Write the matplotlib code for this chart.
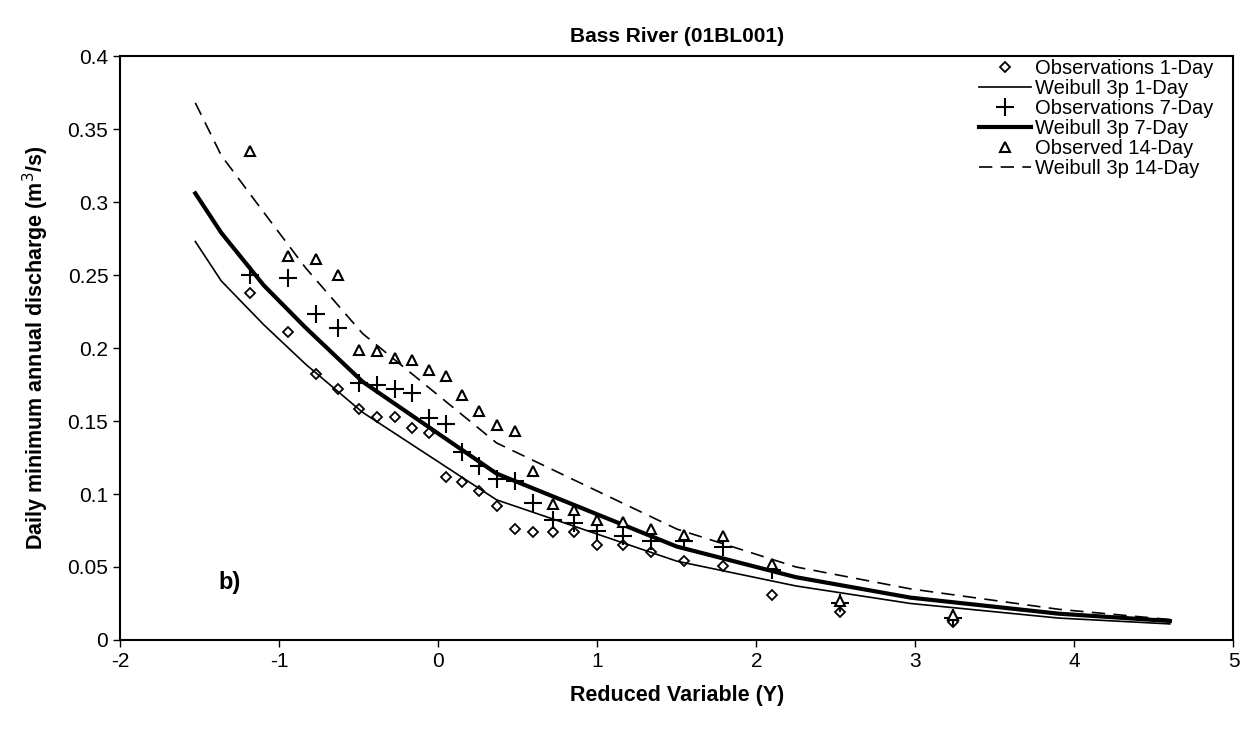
import matplotlib.pyplot as plt
from matplotlib.ticker import FuncFormatter

plt.rcParams['font.family'] = ['Liberation Sans', 'DejaVu Sans']
plt.rcParams['axes.unicode_minus'] = False

# reduced variate of the observations (plotting positions)
obs_y = [-1.181, -0.942, -0.770, -0.627, -0.500, -0.383, -0.272, -0.164, -0.059,
         0.046, 0.151, 0.257, 0.367, 0.480, 0.598, 0.723, 0.856, 1.000, 1.159,
         1.338, 1.544, 1.789, 2.099, 2.526, 3.239]

obs_1day = [0.238, 0.211, 0.182, 0.172, 0.158, 0.153, 0.153, 0.145, 0.142,
            0.112, 0.108, 0.102, 0.092, 0.076, 0.074, 0.074, 0.074, 0.065, 0.065,
            0.060, 0.054, 0.051, 0.031, 0.019, 0.012]
obs_7day = [0.250, 0.248, 0.223, 0.214, 0.176, 0.175, 0.172, 0.169, 0.152,
            0.148, 0.129, 0.119, 0.110, 0.109, 0.094, 0.082, 0.080, 0.075, 0.071,
            0.068, 0.068, 0.064, 0.048, 0.025, 0.015]
obs_14day = [0.335, 0.263, 0.261, 0.250, 0.199, 0.198, 0.193, 0.192, 0.185,
             0.181, 0.168, 0.157, 0.147, 0.143, 0.116, 0.093, 0.089, 0.082, 0.081,
             0.076, 0.072, 0.071, 0.052, 0.027, 0.017]

# fitted Weibull 3p curves
fit_y = [-1.527, -1.364, -1.097, -0.834, -0.476, 0.367, 1.500, 2.250, 2.970, 3.902, 4.600]
fit_1day = [0.273, 0.246, 0.216, 0.189, 0.156, 0.096, 0.054, 0.037, 0.025, 0.015, 0.011]
fit_7day = [0.306, 0.279, 0.243, 0.214, 0.177, 0.114, 0.064, 0.043, 0.029, 0.018, 0.013]
fit_14day = [0.368, 0.332, 0.293, 0.255, 0.210, 0.135, 0.076, 0.050, 0.035, 0.021, 0.014]

fig = plt.figure(figsize=(12.51, 7.39), dpi=100)
ax = fig.add_axes([0.096, 0.134, 0.890, 0.790])

ax.plot(obs_y, obs_1day, linestyle='none', marker='D', markersize=5.5,
        markerfacecolor='white', markeredgecolor='black', markeredgewidth=1.3,
        label='Observations 1-Day')
ax.plot(fit_y, fit_1day, color='black', linewidth=1.2, label='Weibull 3p 1-Day')
ax.plot(obs_y, obs_7day, linestyle='none', marker='+', markersize=13,
        markeredgecolor='black', markeredgewidth=1.5, label='Observations 7-Day')
ax.plot(fit_y, fit_7day, color='black', linewidth=3, label='Weibull 3p 7-Day')
ax.plot(obs_y, obs_14day, linestyle='none', marker='^', markersize=7.5,
        markerfacecolor='white', markeredgecolor='black', markeredgewidth=1.5,
        label='Observed 14-Day')
ax.plot(fit_y, fit_14day, color='black', linewidth=1.2, dashes=(8, 5),
        label='Weibull 3p 14-Day')

ax.set_xlim(-2, 5)
ax.set_ylim(0, 0.4)
ax.set_xticks(range(-2, 6))
ax.set_yticks([0, 0.05, 0.1, 0.15, 0.2, 0.25, 0.3, 0.35, 0.4])
ax.yaxis.set_major_formatter(FuncFormatter(lambda v, p: '%g' % v))
ax.tick_params(direction='out', labelsize=15, length=5, width=1)
for s in ax.spines.values():
    s.set_linewidth(1.5)

ax.set_title('Bass River (01BL001)', fontsize=15, fontweight='bold', pad=10)
ax.set_xlabel('Reduced Variable (Y)', fontsize=15.5, fontweight='bold', labelpad=10)
ax.set_ylabel('Daily minimum annual discharge (m$^3$/s)', fontsize=15.5,
              fontweight='bold', labelpad=12)

ax.text(-1.38, 0.035, 'b)', fontsize=17, fontweight='bold')

leg = ax.legend(loc='upper right', bbox_to_anchor=(0.982, 0.995), fontsize=14.5,
                frameon=False, handlelength=2.6, handletextpad=0.2,
                labelspacing=0.05, borderaxespad=0, borderpad=0)

fig.savefig('out.png', dpi=100)
